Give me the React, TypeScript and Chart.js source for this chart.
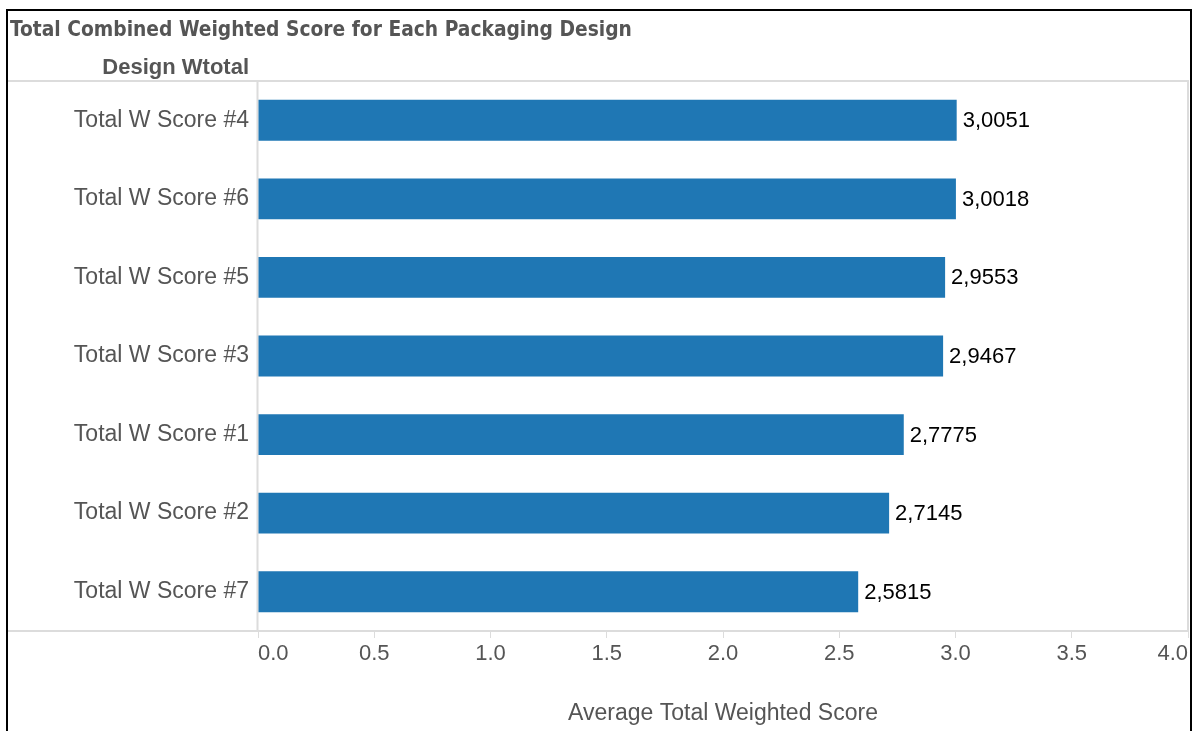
import React, { useEffect, useRef } from "react";
import { Chart, registerables } from "chart.js";

Chart.register(...registerables);

const chartTitle = "Total Combined Weighted Score for Each Packaging Design";
const rowHeader = "Design Wtotal";
const xAxisTitle = "Average Total Weighted Score";
const categories = [
  "Total W Score #4",
  "Total W Score #6",
  "Total W Score #5",
  "Total W Score #3",
  "Total W Score #1",
  "Total W Score #2",
  "Total W Score #7",
];
const scores = [3.0051, 3.0018, 2.9553, 2.9467, 2.7775, 2.7145, 2.5815];
const xMin = 0;
const xMax = 4;
const xStep = 0.5;

const W = 1193;
const H = 731;
const SANS = '"Liberation Sans", Arial, sans-serif';
const GRAY_TEXT = "#555555";
const LINE = "#dcdcdc";

const framePlugin = {
  id: "frame",
  beforeDatasetsDraw(chart: any) {
    const { ctx, chartArea } = chart;
    const { left, right, top, bottom } = chartArea;
    ctx.save();
    ctx.strokeStyle = LINE;
    ctx.lineWidth = 2;
    ctx.beginPath();
    ctx.moveTo(8, top);
    ctx.lineTo(right, top);
    ctx.lineTo(right, bottom);
    ctx.lineTo(8, bottom);
    ctx.moveTo(left - 0.5, top);
    ctx.lineTo(left - 0.5, bottom);
    ctx.stroke();
    ctx.restore();
  },
  afterDraw(chart: any) {
    const { ctx, chartArea } = chart;
    ctx.save();
    // outer black frame
    ctx.strokeStyle = "#000";
    ctx.lineWidth = 2;
    ctx.strokeRect(7, 10, W - 9, H + 20);
    // title
    ctx.fillStyle = GRAY_TEXT;
    ctx.textBaseline = "alphabetic";
    ctx.textAlign = "left";
    const titleFamily = '"DejaVu Sans Condensed", "DejaVu Sans", sans-serif';
    ctx.font = `bold 20px ${titleFamily}`;
    const measured = ctx.measureText(chartTitle).width;
    const size = (20 * 622) / measured;
    ctx.font = `bold ${size.toFixed(2)}px ${titleFamily}`;
    ctx.fillText(chartTitle, 10, 36);
    // row header
    ctx.font = `bold 22px ${SANS}`;
    ctx.textAlign = "right";
    ctx.fillText(rowHeader, chartArea.left - 9, 74);
    ctx.restore();
  },
};

const valueLabelPlugin = {
  id: "valueLabels",
  afterDatasetsDraw(chart: any) {
    const { ctx } = chart;
    const meta = chart.getDatasetMeta(0);
    ctx.save();
    ctx.font = `22px ${SANS}`;
    ctx.fillStyle = "#000";
    ctx.textAlign = "left";
    ctx.textBaseline = "middle";
    meta.data.forEach((bar: any, i: number) => {
      ctx.fillText(scores[i].toFixed(4).replace(".", ","), bar.x + 6, bar.y + 1);
    });
    ctx.restore();
  },
};

export default function App() {
  const canvasRef = useRef<HTMLCanvasElement | null>(null);

  useEffect(() => {
    if (!canvasRef.current) return;
    const chart = new Chart(canvasRef.current, {
      type: "bar",
      data: {
        labels: categories,
        datasets: [
          {
            data: scores,
            backgroundColor: "#1f77b4",
            borderWidth: 0,
            barPercentage: 0.52,
            categoryPercentage: 1.0,
          },
        ],
      },
      options: {
        indexAxis: "y",
        animation: false,
        responsive: false,
        devicePixelRatio: 1,
        layout: { padding: { top: 81, right: 5, left: 0, bottom: 0 } },
        plugins: {
          legend: { display: false },
          tooltip: { enabled: false },
          title: { display: false },
        },
        scales: {
          y: {
            type: "category",
            grid: { display: false, drawTicks: false },
            border: { display: false },
            ticks: {
              color: GRAY_TEXT,
              font: { family: SANS, size: 23 },
              padding: 9,
            },
            afterFit(scale: any) {
              scale.width = 258;
            },
          },
          x: {
            type: "linear",
            min: xMin,
            max: xMax,
            grid: {
              display: true,
              drawOnChartArea: false,
              drawTicks: true,
              tickLength: 7,
              color: LINE,
              lineWidth: 1,
            },
            border: { display: false },
            ticks: {
              stepSize: xStep,
              align: "inner",
              color: GRAY_TEXT,
              font: { family: SANS, size: 22 },
              padding: 3,
              maxRotation: 0,
              callback: (v: any) => Number(v).toFixed(1),
            },
            title: {
              display: true,
              text: xAxisTitle,
              color: GRAY_TEXT,
              font: { family: SANS, size: 23 },
              padding: { top: 4, bottom: 4 },
            },
            afterFit(scale: any) {
              scale.height = 100;
            },
          },
        },
      },
      plugins: [framePlugin, valueLabelPlugin],
    } as any);
    return () => chart.destroy();
  }, []);

  return (
    <div style={{ position: "fixed", left: 0, top: 0, width: W, height: H, background: "#fff" }}>
      <canvas ref={canvasRef} width={W} height={H} style={{ display: "block" }} />
    </div>
  );
}
